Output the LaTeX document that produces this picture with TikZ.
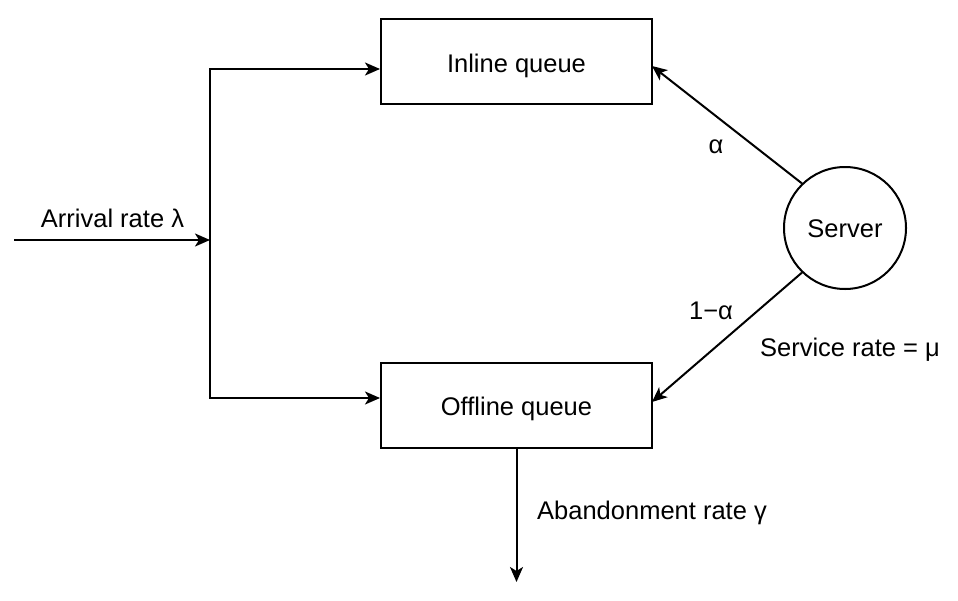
\documentclass[tikz,border=0pt]{standalone}
\usepackage{fontspec}
\setmainfont{Liberation Sans}
\usetikzlibrary{arrows.meta}
\begin{document}
\begin{tikzpicture}[x=1pt,y=-1pt,
  every node/.style={font=\fontsize{25.5}{30}\selectfont},
  box/.style={draw, line width=2pt, minimum width=271pt, minimum height=85pt, inner sep=0pt, text height=21pt, text depth=0pt},
  srv/.style={draw, circle, line width=2pt, minimum size=122pt, inner sep=0pt, text height=18pt, text depth=0pt},
  lbl/.style={inner sep=0pt, anchor=base},
  arr/.style={line width=2pt, -{Stealth[length=15pt,width=13pt,inset=4pt]}},
  barr/.style={line width=2pt, {Stealth[length=15pt,width=13pt,inset=4pt]}-{Stealth[length=15pt,width=13pt,inset=4pt]}}
]
\path[fill=white] (0,0) rectangle (958,600);
\useasboundingbox (0,0) rectangle (958,600);

\node[box] (inline) at (516.5,61.5) {Inline queue};
\node[box] (offline) at (516.5,405) {Offline queue};
\node[srv] (server) at (845,228) {Server};

\coordinate (src) at (14,240);
\coordinate (split) at (210,240);
\coordinate (top) at (210,69);
\coordinate (bot) at (210,398);
\coordinate (inA) at (652,66);
\coordinate (offA) at (652,402);
\coordinate (sink) at (516.5,582);

\draw[arr] (src) -- (split);
\draw[barr, line join=miter] (top -| inline.west) -- (top) -- (bot) -- (bot -| offline.west);
\draw[arr] (server.134) -- (inA);
\draw[arr] (server.226) -- (offA);
\draw[arr] (offline.south) -- (sink);

\node[lbl] (larr) at (112.5,227) {Arrival rate λ};
\node[lbl] (lalpha) at (716,153) {α};
\node[lbl] (lonem) at (711,319) {1−α};
\node[lbl] (lserv) at (850,356) {Service rate = μ};
\node[lbl] (laband) at (652,519) {Abandonment rate γ};
\end{tikzpicture}
\end{document}
